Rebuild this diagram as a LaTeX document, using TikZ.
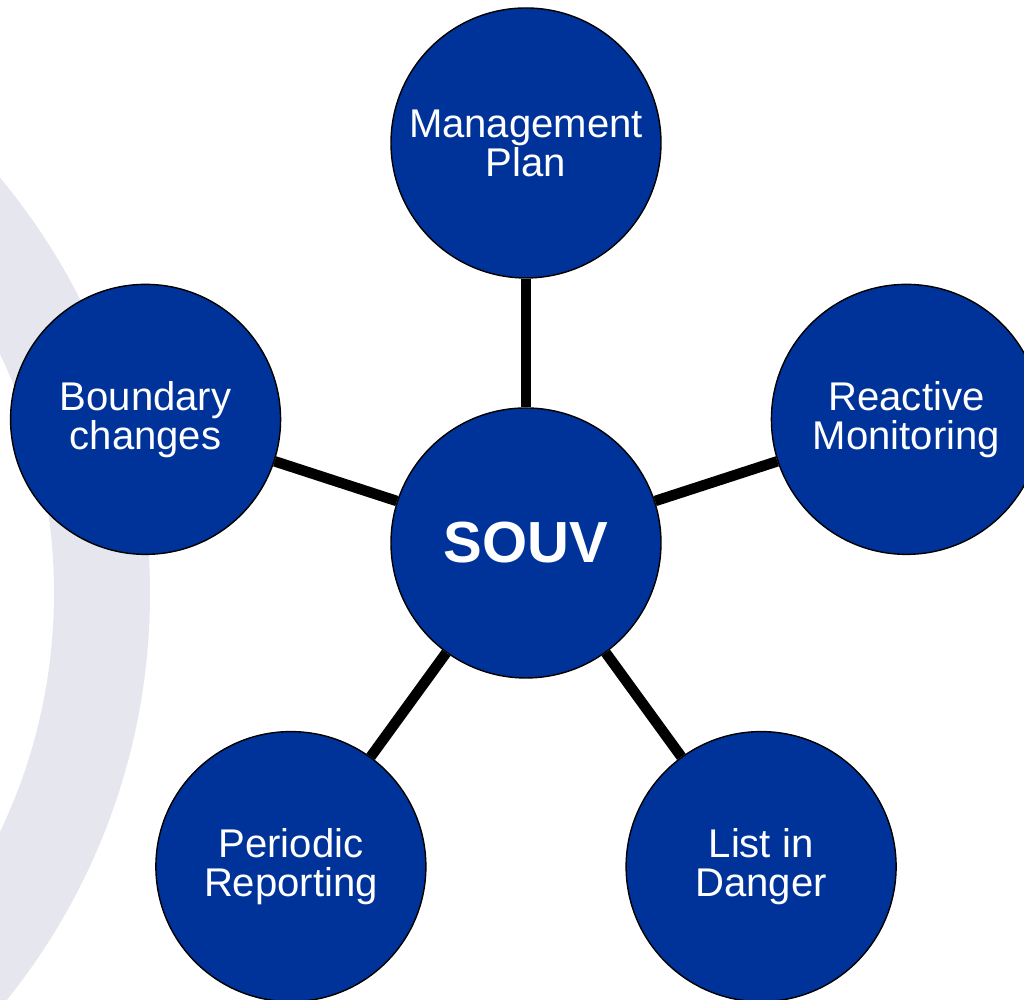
\documentclass[tikz,border=0pt]{standalone}
\usepackage{fontspec}
\setmainfont{Liberation Sans}
\usetikzlibrary{backgrounds}

\definecolor{souvblue}{RGB}{0,51,153}
\definecolor{bandgray}{RGB}{230,230,238}

\begin{document}
\begin{tikzpicture}[
    hub/.style={circle, draw=black, line width=0.4pt, fill=souvblue, text=white,
        minimum size=2.7cm, inner sep=0pt, align=center,
        font=\fontsize{16.5}{16.5}\selectfont\bfseries},
    satellite/.style={hub, font=\fontsize{11.4}{11.1}\selectfont},
    link/.style={line width=3pt, black}
]

    % Page size
    \def\W{10.24}
    \def\H{10}
    \def\xo{5.26}    % center, x
    \def\yo{4.57}    % center, y
    \def\dist{4}     % center to outer circles
    \coordinate (bc0) at (-5, 4.07);  % center of the band
    \useasboundingbox (0,0) rectangle (\W,\H);

    % Center
    \node[hub] (souv) at (\xo,\yo) {SOUV};
    % Outer circles
    \node[satellite] (mp)  at ([shift={(90:\dist)}]souv)   {Management\\Plan};
    \node[satellite] (rm)  at ([shift={(18:\dist)}]souv)   {Reactive\\Monitoring};
    \node[satellite] (lid) at ([shift={(-54:\dist)}]souv)  {List in\\Danger};
    \node[satellite] (pr)  at ([shift={(-126:\dist)}]souv) {Periodic\\Reporting};
    \node[satellite] (bc)  at ([shift={(162:\dist)}]souv)  {Boundary\\changes};

    \begin{pgfonlayer}{background}
        % Gray band
        \begin{scope}
            \clip (0,0) rectangle (\W,\H);
            \fill[bandgray, even odd rule] (bc0) circle (6.5) (bc0) circle (5.54);
        \end{scope}
        % Links
        \foreach \n in {mp, rm, lid, pr, bc}{
            \draw[link] (souv) -- (\n);
        }
    \end{pgfonlayer}

\end{tikzpicture}
\end{document}
